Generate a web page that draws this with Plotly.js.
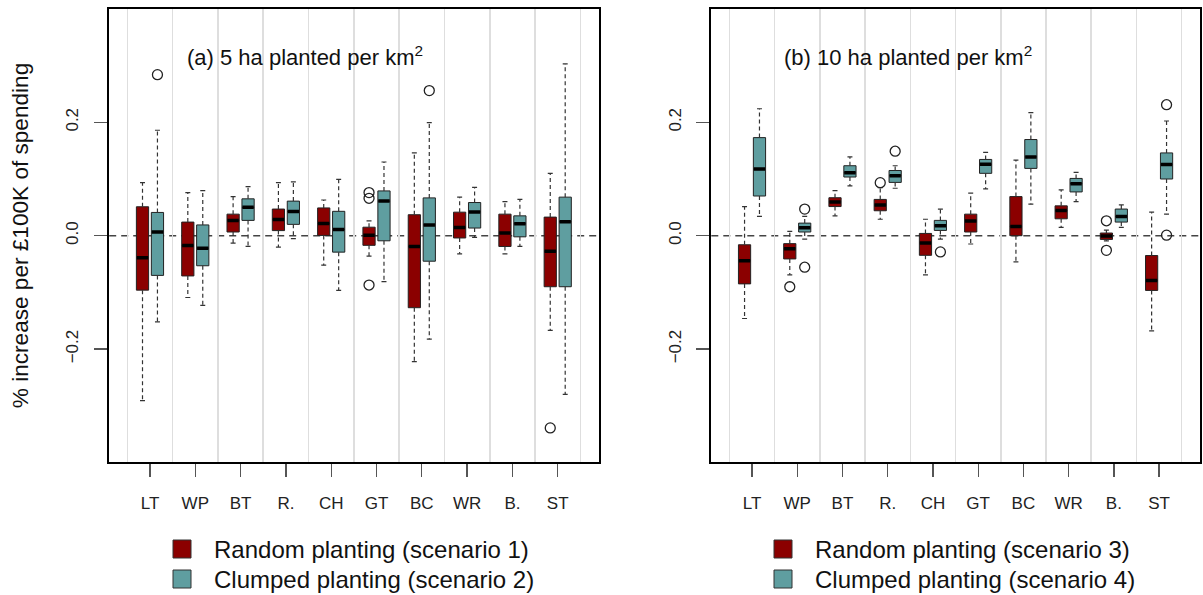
<!DOCTYPE html>
<html>
<head>
<meta charset="utf-8">
<script src="https://cdn.plot.ly/plotly-3.0.1.min.js"></script>
<style>html,body{margin:0;padding:0;background:#fff}#chart{width:1203px;height:595px}</style>
</head>
<body>
<div id="chart"></div>
<script>
// ---------- DATA ----------
const categories = ["LT","WP","BT","R.","CH","GT","BC","WR","B.","ST"];
const yTickVals = [-0.2, 0, 0.2];
const yTickText = ["\u22120.2", "0.0", "0.2"];

// (a) 5 ha planted per km2 — scenario 1 (random)
const s1Lower  = [-0.291, -0.109, -0.013, -0.020, -0.052, -0.036, -0.222, -0.032, -0.032, -0.167];
const s1Q1     = [-0.096, -0.071, 0.0065, 0.009, 0.0005, -0.017, -0.127, -0.004, -0.019, -0.090];
const s1Median = [-0.039, -0.0175, 0.027, 0.0286, 0.0216, 0.001, -0.019, 0.0146, 0.0047, -0.0275];
const s1Q3     = [0.051, 0.024, 0.038, 0.047, 0.049, 0.015, 0.037, 0.0415, 0.038, 0.0328];
const s1Upper  = [0.0935, 0.076, 0.069, 0.0935, 0.063, 0.026, 0.146, 0.068, 0.060, 0.110];
const s1OutCat = ["GT", "GT", "GT", "ST"];
const s1OutVal = [0.076, 0.066, -0.087, -0.339];

// scenario 2 (clumped)
const s2Lower  = [-0.152, -0.123, -0.019, -0.005, -0.0965, -0.081, -0.1825, -0.003, -0.019, -0.280];
const s2Q1     = [-0.070, -0.053, 0.027, 0.020, -0.029, -0.009, -0.045, 0.0135, -0.002, -0.090];
const s2Median = [0.0065, -0.022, 0.050, 0.0427, 0.011, 0.061, 0.019, 0.042, 0.021, 0.0246];
const s2Q3     = [0.041, 0.019, 0.065, 0.061, 0.043, 0.079, 0.0667, 0.0585, 0.035, 0.068];
const s2Upper  = [0.186, 0.0795, 0.0865, 0.095, 0.0994, 0.130, 0.1994, 0.0854, 0.064, 0.303];
const s2OutCat = ["LT", "BC"];
const s2OutVal = [0.284, 0.256];

// (b) 10 ha planted per km2 — scenario 3 (random)
const s3Lower  = [-0.146, -0.069, 0.035, 0.029, -0.069, -0.0146, -0.046, 0.0146, -0.009, -0.168];
const s3Q1     = [-0.085, -0.041, 0.0514, 0.044, -0.0346, 0.0065, 0.000, 0.0298, -0.0065, -0.0965];
const s3Median = [-0.044, -0.023, 0.0596, 0.054, -0.0128, 0.0258, 0.0164, 0.0444, -0.0005, -0.079];
const s3Q3     = [-0.016, -0.014, 0.067, 0.064, 0.004, 0.038, 0.069, 0.0526, 0.0047, -0.035];
const s3Upper  = [0.0514, 0.0075, 0.0795, 0.0847, 0.029, 0.075, 0.1333, 0.0807, 0.010, 0.0415];
const s3OutCat = ["WP", "R.", "B.", "B."];
const s3OutVal = [-0.090, 0.0935, 0.0263, -0.0258];

// scenario 4 (clumped)
const s4Lower  = [0.034, -0.006, 0.0877, 0.0837, -0.006, 0.0825, 0.0556, 0.060, 0.0146, 0.038];
const s4Q1     = [0.070, 0.0065, 0.1035, 0.094, 0.0093, 0.110, 0.1187, 0.0772, 0.024, 0.100];
const s4Median = [0.1175, 0.014, 0.111, 0.1058, 0.0175, 0.126, 0.139, 0.0918, 0.034, 0.1257];
const s4Q3     = [0.173, 0.0222, 0.1234, 0.115, 0.027, 0.1345, 0.1696, 0.101, 0.047, 0.146];
const s4Upper  = [0.2239, 0.034, 0.139, 0.1234, 0.047, 0.1468, 0.217, 0.1117, 0.0544, 0.2023];
const s4OutCat = ["WP", "WP", "R.", "CH", "ST", "ST"];
const s4OutVal = [0.047, -0.0556, 0.149, -0.0286, 0.231, 0.001];

const legendLeft  = ["Random planting (scenario 1)", "Clumped planting (scenario 2)"];
const legendRight = ["Random planting (scenario 3)", "Clumped planting (scenario 4)"];
const panelTitles = ["(a) 5 ha planted per km<sup>2</sup>", "(b) 10 ha planted per km<sup>2</sup>"];
const yTitle = "% increase per \u00a3100K of spending";

// ---------- STYLE ----------
const RED = "#8B0000", TEAL = "#5F9EA0";
const OFF = 0.165, BOXW = 0.27, CAPW = 0.11;
const FONT = "Liberation Sans, Arial, sans-serif";
const gridPositions = categories.map((c, i) => i + 0.5).concat([categories.length + 0.5]);

function groupTraces(lower, q1, med, q3, upper, outCat, outVal, color, off, xa, ya, name) {
  const xs = categories.map((c, i) => i + 1 + off);
  const wx = [], wy = [], cx = [], cy = [], mx = [], my = [];
  xs.forEach((x, i) => {
    wx.push(x, x, null, x, x, null);
    wy.push(q3[i], upper[i], null, q1[i], lower[i], null);
    cx.push(x - CAPW / 2, x + CAPW / 2, null, x - CAPW / 2, x + CAPW / 2, null);
    cy.push(upper[i], upper[i], null, lower[i], lower[i], null);
    mx.push(x - BOXW / 2 + 0.01, x + BOXW / 2 - 0.01, null);
    my.push(med[i], med[i], null);
  });
  return [
    {type: "box", name: name, x: xs, q1: q1, median: med, q3: q3, lowerfence: q1, upperfence: q3,
     width: BOXW, fillcolor: color, line: {color: "#222", width: 1}, whiskerwidth: 0,
     boxpoints: false, xaxis: xa, yaxis: ya, showlegend: false, hoverinfo: "skip"},
    {type: "scatter", mode: "lines", x: wx, y: wy, xaxis: xa, yaxis: ya, showlegend: false,
     hoverinfo: "skip", line: {color: "#333", width: 1.2, dash: "4px,3px"}},
    {type: "scatter", mode: "lines", x: cx, y: cy, xaxis: xa, yaxis: ya, showlegend: false,
     hoverinfo: "skip", line: {color: "#333", width: 1.2}},
    {type: "scatter", mode: "lines", x: mx, y: my, xaxis: xa, yaxis: ya, showlegend: false,
     hoverinfo: "skip", line: {color: "#000", width: 3.5}},
    {type: "scatter", mode: "markers", x: outCat.map(c => categories.indexOf(c) + 1 + off), y: outVal,
     xaxis: xa, yaxis: ya, showlegend: false, hoverinfo: "skip",
     marker: {symbol: "circle-open", size: 10, color: "#222", line: {width: 1.3, color: "#222"}}}
  ];
}

const data = [].concat(
  groupTraces(s1Lower, s1Q1, s1Median, s1Q3, s1Upper, s1OutCat, s1OutVal, RED, -OFF, "x", "y", legendLeft[0]),
  groupTraces(s2Lower, s2Q1, s2Median, s2Q3, s2Upper, s2OutCat, s2OutVal, TEAL, OFF, "x", "y", legendLeft[1]),
  groupTraces(s3Lower, s3Q1, s3Median, s3Q3, s3Upper, s3OutCat, s3OutVal, RED, -OFF, "x2", "y2", legendRight[0]),
  groupTraces(s4Lower, s4Q1, s4Median, s4Q3, s4Upper, s4OutCat, s4OutVal, TEAL, OFF, "x2", "y2", legendRight[1])
);

const W = 1203, H = 595;
const px = v => v / W, py = v => 1 - v / H;

function xAxis(domain, anchor) {
  return {
    domain: domain, anchor: anchor, range: [0.1, 10.9], fixedrange: true,
    tickmode: "array", tickvals: categories.map((c, i) => i + 1), ticktext: categories,
    ticks: "outside", ticklen: 13, tickwidth: 1.3, tickcolor: "#555",
    ticklabelstandoff: 12, tickfont: {family: FONT, size: 17, color: "#222"},
    showgrid: false, zeroline: false,
    showline: true, mirror: true, linewidth: 2, linecolor: "#000",
    minor: {tickmode: "array", tickvals: gridPositions, showgrid: true, gridcolor: "#dedede", gridwidth: 1.5, ticks: ""}
  };
}
function yAxis(anchor, withTitle) {
  const a = {
    domain: [py(461.7), py(9.3)], anchor: anchor, range: [-0.3986, 0.3993], fixedrange: true,
    tickmode: "array", tickvals: yTickVals, ticktext: yTickText, tickangle: -90,
    ticks: "outside", ticklen: 13, tickwidth: 1.3, tickcolor: "#555",
    ticklabelstandoff: 9, tickfont: {family: FONT, size: 17, color: "#222"},
    showgrid: false, zeroline: false,
    showline: true, mirror: true, linewidth: 2, linecolor: "#000", automargin: false
  };
  if (withTitle) a.title = {text: yTitle, font: {family: FONT, size: 22.6, color: "#111"}, standoff: 28};
  return a;
}

const shapes = [
  {type: "line", xref: "x domain", yref: "y", x0: 0, x1: 1, y0: 0, y1: 0, layer: "below", line: {color: "#444", width: 1.5, dash: "7px,5px"}},
  {type: "line", xref: "x2 domain", yref: "y2", x0: 0, x1: 1, y0: 0, y1: 0, layer: "below", line: {color: "#444", width: 1.5, dash: "7px,5px"}}
];
const annotations = [];
const panels = [
  {titleX: 185, legX: 173, labels: legendLeft},
  {titleX: 782, legX: 774, labels: legendRight}
];
panels.forEach((p, k) => {
  annotations.push({xref: "paper", yref: "paper", x: px(p.titleX), y: py(56), xanchor: "left", yanchor: "middle",
    text: panelTitles[k], showarrow: false, font: {family: FONT, size: 22, color: "#111"}});
  p.labels.forEach((lab, j) => {
    const cy = 549 + 30 * j;
    shapes.push({type: "rect", xref: "paper", yref: "paper", x0: px(p.legX), x1: px(p.legX + 18),
      y0: py(cy - 9), y1: py(cy + 9), fillcolor: j === 0 ? RED : TEAL, line: {color: "#333", width: 1}});
    annotations.push({xref: "paper", yref: "paper", x: px(p.legX + 39), y: py(cy), xanchor: "left", yanchor: "middle",
      text: lab, showarrow: false, font: {family: FONT, size: 24, color: "#111"}});
  });
});

const layout = {
  width: W, height: H, margin: {l: 0, r: 0, t: 0, b: 0}, autosize: false,
  paper_bgcolor: "#fff", plot_bgcolor: "#fff", boxmode: "overlay", showlegend: false,
  font: {family: FONT, color: "#222"},
  xaxis: xAxis([px(109.2), px(598.5)], "y"),
  yaxis: yAxis("x", true),
  xaxis2: xAxis([px(711.3), px(1199.8)], "y2"),
  yaxis2: yAxis("x2", false),
  shapes: shapes, annotations: annotations
};

Plotly.newPlot("chart", data, layout, {staticPlot: true, displayModeBar: false});
</script>
</body>
</html>
